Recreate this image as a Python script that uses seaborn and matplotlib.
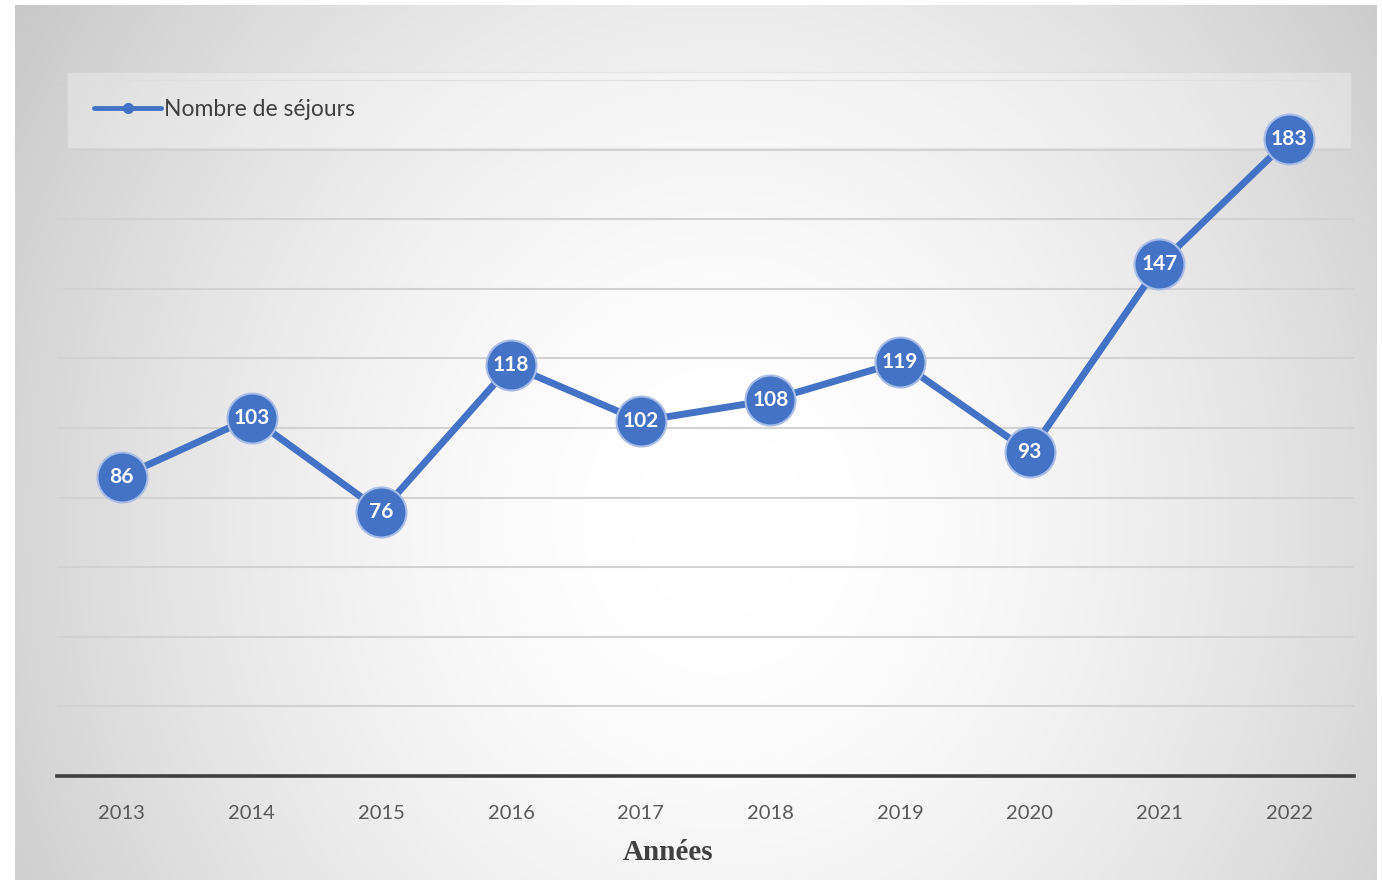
import numpy as np
import matplotlib
matplotlib.use("Agg")
import matplotlib.pyplot as plt
import seaborn as sns
from matplotlib.lines import Line2D

# ---- data ----
years = [2013, 2014, 2015, 2016, 2017, 2018, 2019, 2020, 2021, 2022]
sejours = [86, 103, 76, 118, 102, 108, 119, 93, 147, 183]
series_label = "Nombre de séjours"
x_title = "Années"

BLUE = "#4472C4"
RING = "#a7bce6"

sns.set_theme(style="white")
plt.rcParams['font.family'] = ['Lato', 'DejaVu Sans']

W, H = 1382, 884
fig = plt.figure(figsize=(W / 100, H / 100), dpi=100)
fig.patch.set_facecolor("white")

# ---- radial gradient background (chart area) ----
bx0, by0, bx1, by1 = 15, 5, 1377, 880
bg = fig.add_axes([bx0 / W, 1 - by1 / H, (bx1 - bx0) / W, (by1 - by0) / H], zorder=0)
yy, xx = np.mgrid[by0:by1, bx0:bx1]
cx, cy = 720, 520
d = np.sqrt(((xx - cx) / 850.0) ** 2 + ((yy - cy) / 950.0) ** 2)
t = np.clip((d - 0.1) / 0.9, 0, 1.3)
v = 1 - 0.22 * t ** 1.5
img = np.dstack([v, v, v])
bg.imshow(img, aspect="auto", extent=(0, 1, 0, 1), interpolation="bilinear")
bg.axis("off")

# ---- main axes ----
ax = fig.add_axes([57 / W, 1 - 776 / H, (1354 - 57) / W, (776 - 80) / H], zorder=1)
ax.patch.set_alpha(0)

sns.lineplot(x=years, y=sejours, ax=ax, color=BLUE, linewidth=5,
             marker="o", markersize=36, markeredgecolor=RING,
             markeredgewidth=1.5, zorder=3, legend=False)

for x, y in zip(years, sejours):
    ax.text(x, y, str(y), ha="center", va="center", color="white",
            fontsize=15, fontweight="bold", zorder=5)

ax.set_xlim(2012.5, 2022.5)
ax.set_ylim(0, 200)
ax.set_yticks(np.arange(0, 201, 20))
ax.set_yticklabels([])
ax.set_xticks(years)
ax.set_xticklabels([str(y) for y in years], color="#595959", fontsize=14.5)
ax.tick_params(axis="x", length=0, pad=21)
ax.tick_params(axis="y", length=0)
ax.grid(axis="y", color="#d2d2d2", linewidth=1.5)
ax.grid(axis="x", visible=False)
for s in ["top", "right", "left"]:
    ax.spines[s].set_visible(False)
ax.spines["bottom"].set_color("#404040")
ax.spines["bottom"].set_linewidth(2.6)
ax.set_xlabel("")
ax.set_ylabel("")

# ---- legend ----
handle = Line2D([], [], color=BLUE, linewidth=3.5, marker="o", markersize=7,
                markerfacecolor=BLUE, markeredgecolor=BLUE)
leg = ax.legend([handle], [series_label], loc="upper left",
                bbox_to_anchor=(0.0077, 1.012, 0.99, 0.0), mode="expand",
                borderaxespad=0, borderpad=1.2, handlelength=2.9,
                handletextpad=0.15, fontsize=16.5, frameon=True,
                fancybox=False, labelcolor="#404040",
                facecolor="white", edgecolor="#d0d0d0", framealpha=0.3)
leg.set_zorder(2)

# ---- x title ----
fig.text(668 / W, 1 - 852 / H, x_title, ha="center", va="center",
         fontsize=21, fontweight="bold", color="#404040",
         family=["Liberation Serif", "DejaVu Serif"])

fig.savefig("out.png", dpi=100)
